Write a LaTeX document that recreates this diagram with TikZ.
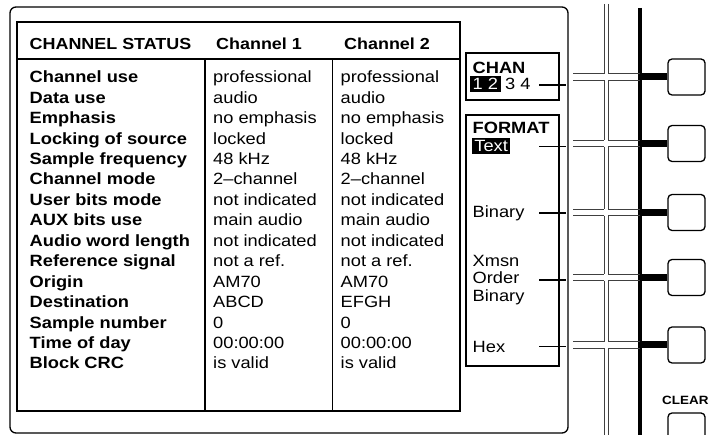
\documentclass[tikz,border=0pt]{standalone}
\usepackage{fontspec}
\setmainfont{Liberation Sans}[FakeStretch=1.12]
\usetikzlibrary{positioning}

\tikzset{
  every node/.style={inner sep=0pt, font=\fontsize{16.3}{20}\selectfont},
  lbl/.style={anchor=base west, font=\fontsize{16.3}{20}\selectfont\bfseries},
  hdr/.style={anchor=base west, font=\fontsize{16}{20}\selectfont\bfseries},
  val/.style={anchor=base west},
  hilite/.style={anchor=base west, fill=black, text=white, inner xsep=2.5pt,
    inner ysep=2pt, text height=12pt, text depth=0pt},
  panel/.style={draw, line width=1.7pt},
  button/.style={draw, line width=1.3pt, rounded corners=4pt,
    minimum width=37pt, minimum height=36pt},
  pane/.style={black!75, line width=0.8pt},
  tick/.style={line width=1.6pt}
}

\begin{document}
\begin{tikzpicture}[x=1pt, y=-1pt]
  \useasboundingbox (0,0) rectangle (710,435);

  % screen
  \draw[line width=1.3pt, rounded corners=6pt] (10,7) rectangle (568,433);

  % status table
  \draw[panel] (17,22) rectangle (460,411);
  \draw[panel] (17,59) -- (460,59)
               (205,59) -- (205,411)
               (332.5,59) -- (332.5,411);
  \node[hdr] (hd0) at (29.5,49.3) {CHANNEL STATUS};
  \node[hdr] (hd1) at (216,49.3) {Channel 1};
  \node[hdr] (hd2) at (344,49.3) {Channel 2};

  \foreach \lab/\va/\vb [count=\i] in {
      Channel use/professional/professional,
      Data use/audio/audio,
      Emphasis/no emphasis/no emphasis,
      Locking of source/locked/locked,
      Sample frequency/48 kHz/48 kHz,
      Channel mode/2–channel/2–channel,
      User bits mode/not indicated/not indicated,
      AUX bits use/main audio/main audio,
      Audio word length/not indicated/not indicated,
      Reference signal/not a ref./not a ref.,
      Origin/AM70/AM70,
      Destination/ABCD/EFGH,
      Sample number/0/0,
      Time of day/00:00:00/00:00:00,
      Block CRC/is valid/is valid}
  {
    \node[lbl] (lab\i) at (29.5,{62.25+20.45*\i}) {\lab};
    \node[val] (one\i) at (213,{62.25+20.45*\i}) {\va};
    \node[val] (two\i) at (340.5,{62.25+20.45*\i}) {\vb};
  }

  % menu
  \draw[panel] (466,53) rectangle (559,100);
  \draw[panel] (466,115) rectangle (559,366);
  \node[lbl] (chan) at (472.5,74) {CHAN};
  \node[hilite] (ch12) at (470,90) {1 2};
  \node[val] (ch34) at (505,90) {3 4};
  \node[lbl] (fmt) at (472.5,133.3) {FORMAT};
  \node[hilite] (ftext) at (471.7,151.7) {Text};
  \node[val] (fbin) at (472.5,217.3) {Binary};
  \node[val, anchor=west, align=left, font=\fontsize{16.3}{17.5}\selectfont]
    (fxmsn) at (472.5,280) {Xmsn\\Order\\Binary};
  \node[val] (fhex) at (472.5,352.7) {Hex};

  \foreach \y [count=\i] in {85,146.7,213.3,280,346.7}
  {
    \coordinate (tk\i) at (539,\y);
    \draw[tick] (tk\i) -- ++(27,0);
  }

  % bezel
  \foreach \ya/\yb in {4/73.8, 80.2/140.3, 146.7/209.3, 215.7/274.3,
                       280.7/341.8, 348.2/435}
    \draw[pane] (604,\ya) -- (604,\yb) (608,\ya) -- (608,\yb);
  \draw[line width=3.7pt] (640,8) -- (640,435);

  \foreach \c [count=\i] in {77,143.5,212.5,277.5,345}
  {
    \draw[pane] (573,{\c-3.2}) -- (604,{\c-3.2}) (608,{\c-3.2}) -- (640,{\c-3.2})
                (573,{\c+3.2}) -- (604,{\c+3.2}) (608,{\c+3.2}) -- (640,{\c+3.2});
    \node[button] (btn\i) at (686.5,\c) {};
    \coordinate (bar\i) at (640,\c);
    \draw[line width=7pt] (bar\i) -- (btn\i.west);
  }

  \node[lbl, font=\fontsize{12}{14}\selectfont\bfseries] (clr) at (662,405) {CLEAR};
  \draw[line width=1.3pt, rounded corners=4pt] (668,436) -- (668,413) -- (705,413) -- (705,436);
\end{tikzpicture}
\end{document}
